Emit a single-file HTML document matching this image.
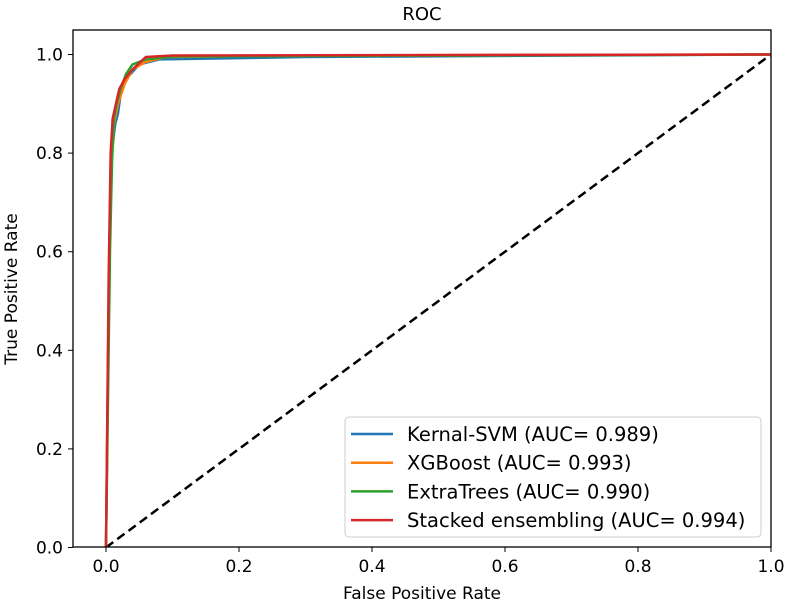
<!DOCTYPE html>
<html><head><meta charset="utf-8"><style>
body{margin:0;background:#fff}
svg text{font-family:"DejaVu Sans","Liberation Sans",sans-serif;fill:#000}
</style></head><body>
<svg id="chart" width="787" height="604" xmlns="http://www.w3.org/2000/svg">
<text x="422" y="20" font-size="18" text-anchor="middle">ROC</text>
<g id="ticks"></g>
<g id="series" clip-path="url(#clip)"></g>
<defs><clipPath id="clip"><rect x="73" y="30" width="698" height="517"/></clipPath></defs>
<rect x="73" y="30" width="698" height="517" fill="none" stroke="#000" stroke-width="1.3"/>
<text x="422" y="599" font-size="17" text-anchor="middle">False Positive Rate</text>
<text x="0" y="0" font-size="17" text-anchor="middle" transform="translate(17,289) rotate(-90)">True Positive Rate</text>
<g>
<rect x="345" y="417" width="416" height="120" rx="4" fill="#fff" fill-opacity="0.8" stroke="#ccc"/>
<g id="legend"></g>
</g>
</svg>
<script>
const xTicks=[0,0.2,0.4,0.6,0.8,1.0];
const yTicks=[0,0.2,0.4,0.6,0.8,1.0];
const names=["Kernal-SVM (AUC= 0.989)","XGBoost (AUC= 0.993)","ExtraTrees (AUC= 0.990)","Stacked ensembling (AUC= 0.994)"];
const colors=["#1f77b4","#ff7f0e","#2ca02c","#d62728"];
const svmFpr=[0,0.005,0.009,0.012,0.014,0.018,0.022,0.03,0.05,0.08,0.3,1];
const svmTpr=[0,0.6,0.8,0.84,0.86,0.88,0.92,0.95,0.98,0.99,0.995,1];
const xgbFpr=[0,0.004,0.008,0.012,0.018,0.028,0.04,0.06,0.09,0.3,1];
const xgbTpr=[0,0.5,0.78,0.86,0.9,0.94,0.97,0.985,0.995,0.998,1];
const etFpr=[0,0.006,0.009,0.012,0.016,0.022,0.03,0.04,0.06,0.1,1];
const etTpr=[0,0.6,0.78,0.87,0.9,0.93,0.96,0.98,0.99,0.996,1];
const stFpr=[0,0.004,0.007,0.01,0.015,0.02,0.028,0.04,0.06,0.1,1];
const stTpr=[0,0.55,0.8,0.87,0.9,0.93,0.95,0.97,0.995,0.998,1];
const X=v=>106+v*665, Y=v=>547.5-v*493;
const NS="http://www.w3.org/2000/svg";
const tk=document.getElementById('ticks');
function mk(t,a,p){const e=document.createElementNS(NS,t);for(const k in a)e.setAttribute(k,a[k]);p.appendChild(e);return e;}
xTicks.forEach(v=>{
 const l=mk('line',{x1:X(v),x2:X(v),y1:547,y2:552,stroke:'#000'},tk);
 
 
 const t=mk('text',{x:X(v),y:572,'font-size':17,'text-anchor':'middle'},tk);t.textContent=v.toFixed(1);
 
 
});
yTicks.forEach(v=>{
 const l=mk('line',{x1:68,x2:73,y1:Y(v),y2:Y(v),stroke:'#000'},tk);
 
 
 const t=mk('text',{x:63,y:Y(v)+6,'font-size':17,'text-anchor':'end'},tk);t.textContent=v.toFixed(1);
 
 
});
const sg=document.getElementById('series');
const d=mk('line',{x1:X(0),y1:Y(0),x2:X(1),y2:Y(1),stroke:'#000','stroke-width':2.5,'stroke-dasharray':'9,5'},sg);


const S=[[svmFpr,svmTpr],[xgbFpr,xgbTpr],[etFpr,etTpr],[stFpr,stTpr]];
const sn=['svm-curve','xgboost-curve','extratrees-curve','stacked-curve'];
S.forEach((s,i)=>{
 const p=mk('polyline',{points:s[0].map((f,j)=>X(f)+','+Y(s[1][j])).join(' '),fill:'none',stroke:colors[i],'stroke-width':2.5,'stroke-linejoin':'round'},sg);
 
 
});
const lg=document.getElementById('legend');
names.forEach((n,i)=>{
 const y=434+i*28.7;
 const l=mk('line',{x1:351,x2:393,y1:y,y2:y,stroke:colors[i],'stroke-width':2.5},lg);
 
 
 const t=mk('text',{x:407,y:y+7,'font-size':19.5},lg);t.textContent=n;
 
 
});
</script>
</body></html>
